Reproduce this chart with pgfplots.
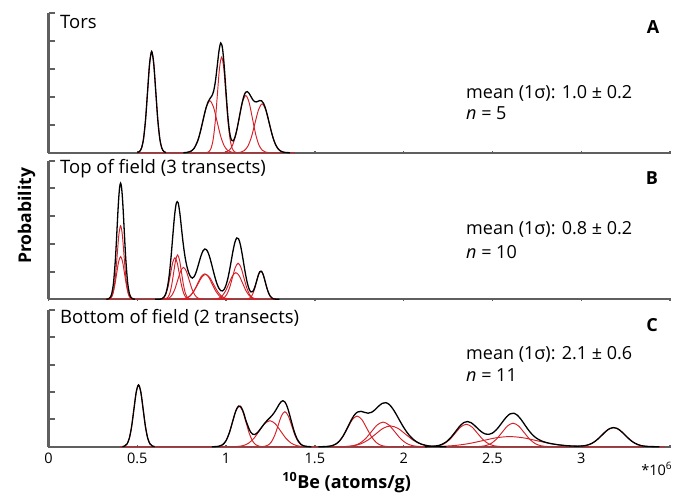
\documentclass[border=0pt]{standalone}
\usepackage{pgfplots}
\pgfplotsset{compat=1.18}
\usepackage{fontspec}
\setmainfont{Open Sans}
\definecolor{pdred}{RGB}{212,32,39}
\definecolor{axgray}{RGB}{95,95,95}
\pgfplotsset{
  panel/.style={
    scale only axis, width=621.5bp, xmin=0, xmax=3.5, ymin=0, ymax=5,
    axis lines=left, axis line style={-, draw=axgray, line width=2bp},
    clip=false,
    ytick=\empty,
    extra y ticks={0,1,2,3,4,5}, extra y tick labels={},
    y tick style={draw=axgray, line width=2bp},
    extra y tick style={major tick length=6.5bp, tick align=inside,
      tick style={draw=axgray, line width=2bp}},
    major tick length=3bp,
    xtick={0,0.5,...,3.5}, xtick align=center,
    x tick style={draw=axgray, line width=1.4bp},
    xticklabels={},
    anchor=south west},
  rc/.style={pdred, line width=0.95bp, smooth, no markers},
  bc/.style={black, line width=1.3bp, smooth, no markers}}
\newcommand{\fs}[1]{\fontsize{#1bp}{#1bp}\selectfont}
\begin{document}
\begin{tikzpicture}
\path[use as bounding box] (0,0) rectangle (691bp,494bp);
% ---------------- Panel A ----------------
\begin{axis}[panel, height=139.4bp, at={(48.5bp,341.3bp)}]
\addplot[rc] coordinates {(0.50,0) (1.39,0)};
\addplot[rc] coordinates {(.5005,.008)(.512,.040)(.5235,.159)(.535,.491)(.5465,1.179)(.558,2.202)(.5695,3.203)(.581,3.63)(.5925,3.203)(.604,2.202)(.6155,1.179)(.627,.491)(.6385,.159)(.650,.040)(.6615,.008)};
\addplot[rc] coordinates {(.769,.004)(.789,.021)(.809,.082)(.829,.252)(.849,.604)(.869,1.128)(.889,1.641)(.909,1.86)(.929,1.641)(.949,1.128)(.969,.604)(.989,.252)(1.009,.082)(1.029,.021)(1.049,.004)};
\addplot[rc] coordinates {(.891,.008)(.903,.038)(.915,.151)(.927,.464)(.939,1.114)(.951,2.080)(.963,3.027)(.975,3.43)(.987,3.027)(.999,2.080)(1.011,1.114)(1.023,.464)(1.035,.151)(1.047,.038)(1.059,.008)};
\addplot[rc] coordinates {(.9815,.005)(1.000,.023)(1.0185,.090)(1.037,.277)(1.0555,.666)(1.074,1.243)(1.0925,1.809)(1.111,2.05)(1.1295,1.809)(1.148,1.243)(1.1665,.666)(1.185,.277)(1.2035,.090)(1.222,.023)(1.2405,.005)};
\addplot[rc] coordinates {(1.063,.004)(1.083,.019)(1.103,.077)(1.123,.237)(1.143,.568)(1.163,1.061)(1.183,1.544)(1.203,1.75)(1.223,1.544)(1.243,1.061)(1.263,.568)(1.283,.237)(1.303,.077)(1.323,.019)(1.343,.004)};
\addplot[bc] coordinates {(.5005,.008)(.512,.040)(.5235,.159)(.535,.491)(.5465,1.179)(.558,2.202)(.5695,3.203)(.581,3.63)(.5925,3.203)(.604,2.202)(.6155,1.179)(.627,.491)(.6385,.159)(.650,.040)(.6615,.008)};
\addplot[bc] coordinates {(.76,0)(.78,.010)(.80,.045)(.82,.157)(.84,.420)(.85,.627)(.86,.878)(.87,1.157)(.88,1.431)(.89,1.668)(.90,1.839)(.91,1.948)(.92,2.039)(.93,2.211)(.94,2.563)(.95,3.094)(.96,3.646)(.97,3.937)(.98,3.741)(.99,3.070)(1.00,2.157)(1.01,1.311)(1.02,.731)(1.03,.454)(1.04,.422)(1.05,.558)(1.06,.803)(1.07,1.117)(1.08,1.458)(1.09,1.777)(1.10,2.025)(1.11,2.167)(1.12,2.193)(1.13,2.127)(1.14,2.014)(1.15,1.904)(1.16,1.835)(1.17,1.821)(1.18,1.844)(1.19,1.870)(1.20,1.859)(1.21,1.780)(1.22,1.626)(1.23,1.405)(1.24,1.146)(1.25,.880)(1.26,.634)(1.27,.430)(1.28,.274)(1.29,.164)(1.30,.093)(1.31,.049)(1.32,.024)(1.33,.011)(1.34,.005)(1.36,0)};
\end{axis}
% ---------------- Panel B ----------------
\begin{axis}[panel, height=138.6bp, at={(48.5bp,194.7bp)}]
\addplot[rc] coordinates {(0.32,0) (1.30,0)};
\addplot[rc] coordinates {(.3395,.006)(.349,.029)(.3585,.116)(.368,.359)(.3775,.860)(.387,1.607)(.3965,2.339)(.406,2.65)(.4155,2.339)(.425,1.607)(.4345,.860)(.444,.359)(.4535,.116)(.463,.029)(.4725,.006)};
\addplot[rc] coordinates {(.329,.003)(.340,.017)(.351,.068)(.362,.208)(.373,.500)(.384,.934)(.395,1.359)(.406,1.54)(.417,1.359)(.428,.934)(.439,.500)(.450,.208)(.461,.068)(.472,.017)(.483,.003)};
\addplot[rc] coordinates {(.6245,.003)(.637,.017)(.6495,.066)(.662,.203)(.6745,.487)(.687,.910)(.6995,1.324)(.712,1.50)(.7245,1.324)(.737,.910)(.7495,.487)(.762,.203)(.7745,.066)(.787,.017)(.7995,.003)};
\addplot[rc] coordinates {(.650,.004)(.661,.018)(.672,.070)(.683,.216)(.694,.520)(.705,.970)(.716,1.412)(.727,1.60)(.738,1.412)(.749,.970)(.760,.520)(.771,.216)(.782,.070)(.793,.018)(.804,.004)};
\addplot[rc] coordinates {(.648,.003)(.664,.013)(.680,.050)(.696,.156)(.712,.373)(.728,.697)(.744,1.015)(.760,1.15)(.776,1.015)(.792,.697)(.808,.373)(.824,.156)(.840,.050)(.856,.013)(.872,.003)};
\addplot[rc] coordinates {(.7365,.002)(.757,.010)(.7775,.040)(.798,.124)(.8185,.299)(.839,.558)(.8595,.812)(.880,.92)(.9005,.812)(.921,.558)(.9415,.299)(.962,.124)(.9825,.040)(1.003,.010)(1.0235,.002)};
\addplot[rc] coordinates {(.731,.002)(.753,.010)(.775,.040)(.797,.122)(.819,.292)(.841,.546)(.863,.794)(.885,.90)(.907,.794)(.929,.546)(.951,.292)(.973,.122)(.995,.040)(1.017,.010)(1.039,.002)};
\addplot[rc] coordinates {(.956,.003)(.972,.014)(.988,.057)(1.004,.176)(1.020,.422)(1.036,.788)(1.052,1.147)(1.068,1.30)(1.084,1.147)(1.100,.788)(1.116,.422)(1.132,.176)(1.148,.057)(1.164,.014)(1.180,.003)};
\addplot[rc] coordinates {(.922,.002)(.941,.011)(.960,.042)(.979,.130)(.998,.312)(1.017,.582)(1.036,.847)(1.055,.96)(1.074,.847)(1.093,.582)(1.112,.312)(1.131,.130)(1.150,.042)(1.169,.011)(1.188,.002)};
\addplot[rc] coordinates {(1.1085,.002)(1.121,.011)(1.1335,.045)(1.146,.138)(1.1585,.331)(1.171,.619)(1.1835,.900)(1.196,1.02)(1.2085,.900)(1.221,.619)(1.2335,.331)(1.246,.138)(1.2585,.045)(1.271,.011)(1.2835,.002)};
\addplot[bc] coordinates {(.326,.002)(.336,.013)(.346,.055)(.356,.199)(.366,.584)(.376,1.370)(.381,1.922)(.386,2.542)(.391,3.162)(.396,3.696)(.401,4.061)(.406,4.19)(.411,4.061)(.416,3.696)(.421,3.162)(.426,2.542)(.431,1.922)(.436,1.370)(.446,.584)(.456,.199)(.466,.055)(.476,.013)(.486,.002)};
\addplot[bc] coordinates {(.60,0)(.62,.002)(.63,.007)(.64,.026)(.65,.076)(.66,.198)(.67,.444)(.68,.874)(.69,1.512)(.70,2.289)(.71,3.021)(.72,3.473)(.73,3.484)(.74,3.091)(.75,2.495)(.76,1.936)(.77,1.489)(.78,1.170)(.79,.950)(.80,.813)(.81,.765)(.82,.816)(.83,.954)(.84,1.154)(.85,1.382)(.86,1.592)(.87,1.745)(.88,1.815)(.89,1.787)(.90,1.666)(.91,1.471)(.92,1.229)(.93,.974)(.94,.738)(.95,.538)(.96,.394)(.97,.313)(.98,.301)(.99,.366)(1.00,.516)(1.01,.750)(1.02,1.061)(1.03,1.419)(1.04,1.776)(1.05,2.062)(1.06,2.212)(1.07,2.185)(1.08,1.985)(1.09,1.654)(1.10,1.265)(1.11,.890)(1.12,.579)(1.13,.367)(1.14,.265)(1.15,.279)(1.16,.404)(1.17,.612)(1.18,.838)(1.19,.994)(1.20,1.008)(1.21,.872)(1.22,.643)(1.23,.405)(1.24,.217)(1.25,.099)(1.26,.038)(1.27,.013)(1.28,.004)(1.29,.001)(1.30,0)};
\end{axis}
% ---------------- Panel C ----------------
\begin{axis}[panel, height=136.7bp, at={(48.5bp,47.3bp)},
  xticklabels={0,0.5,1,1.5,2,2.5,3,},
  xticklabel style={font=\fs{14.5}, inner sep=0pt, anchor=north, yshift=-4.5bp}]
\addplot[rc] coordinates {(0.40,0) (3.47,0)};
\addplot[rc] coordinates {(.416,.005)(.429,.025)(.442,.099)(.455,.306)(.468,.734)(.481,1.371)(.494,1.994)(.507,2.26)(.520,1.994)(.533,1.371)(.546,.734)(.559,.306)(.572,.099)(.585,.025)(.598,.005)};
\addplot[rc] coordinates {(.941,.003)(.960,.016)(.979,.065)(.998,.200)(1.017,.481)(1.036,.898)(1.055,1.306)(1.074,1.48)(1.093,1.306)(1.112,.898)(1.131,.481)(1.150,.200)(1.169,.065)(1.188,.016)(1.207,.003)};
\addplot[rc] coordinates {(1.037,.002)(1.067,.011)(1.097,.042)(1.127,.129)(1.157,.308)(1.187,.576)(1.217,.838)(1.247,.95)(1.277,.838)(1.307,.576)(1.337,.308)(1.367,.129)(1.397,.042)(1.427,.011)(1.457,.002)};
\addplot[rc] coordinates {(1.198,.003)(1.217,.014)(1.236,.056)(1.255,.173)(1.274,.416)(1.293,.776)(1.312,1.130)(1.331,1.28)(1.350,1.130)(1.369,.776)(1.388,.416)(1.407,.173)(1.426,.056)(1.445,.014)(1.464,.003)};
\addplot[rc] coordinates {(1.549,.002)(1.576,.012)(1.603,.049)(1.630,.152)(1.657,.364)(1.684,.679)(1.711,.988)(1.738,1.12)(1.765,.988)(1.792,.679)(1.819,.364)(1.846,.152)(1.873,.049)(1.900,.012)(1.927,.002)};
\addplot[rc] coordinates {(1.653,.002)(1.686,.010)(1.719,.040)(1.752,.122)(1.785,.292)(1.818,.546)(1.851,.794)(1.884,.90)(1.917,.794)(1.950,.546)(1.983,.292)(2.016,.122)(2.049,.040)(2.082,.010)(2.115,.002)};
\addplot[rc] coordinates {(1.632,.002)(1.674,.008)(1.716,.033)(1.758,.103)(1.800,.247)(1.842,.461)(1.884,.671)(1.926,.76)(1.968,.671)(2.010,.461)(2.052,.247)(2.094,.103)(2.136,.033)(2.178,.008)(2.220,.002)};
\addplot[rc] coordinates {(2.136,.002)(2.167,.009)(2.198,.036)(2.229,.111)(2.260,.266)(2.291,.497)(2.322,.724)(2.353,.82)(2.384,.724)(2.415,.497)(2.446,.266)(2.477,.111)(2.508,.036)(2.539,.009)(2.570,.002)};
\addplot[rc] coordinates {(2.399,.002)(2.430,.010)(2.461,.038)(2.492,.116)(2.523,.279)(2.554,.522)(2.585,.759)(2.616,.86)(2.647,.759)(2.678,.522)(2.709,.279)(2.740,.116)(2.771,.038)(2.802,.010)(2.833,.002)};
\addplot[rc] coordinates {(2.072,.001)(2.147,.004)(2.222,.016)(2.297,.050)(2.372,.120)(2.447,.224)(2.522,.327)(2.597,.37)(2.672,.327)(2.747,.224)(2.822,.120)(2.897,.050)(2.972,.016)(3.047,.004)(3.122,.001)};
\addplot[rc] coordinates {(2.9545,.002)(2.987,.008)(3.0195,.031)(3.052,.095)(3.0845,.227)(3.117,.425)(3.1495,.618)(3.182,.70)(3.2145,.618)(3.247,.425)(3.2795,.227)(3.312,.095)(3.3445,.031)(3.377,.008)(3.4095,.002)};
\addplot[bc] coordinates {(.416,.005)(.429,.025)(.442,.099)(.455,.306)(.468,.734)(.481,1.371)(.494,1.994)(.507,2.26)(.520,1.994)(.533,1.371)(.546,.734)(.559,.306)(.572,.099)(.585,.025)(.598,.005)};
\addplot[bc] coordinates {(.92,0)(.94,.003)(.96,.016)(.98,.069)(1.00,.222)(1.02,.540)(1.04,.994)(1.05,1.216)(1.06,1.390)(1.07,1.484)(1.08,1.482)(1.09,1.385)(1.10,1.218)(1.11,.991)(1.12,.812)(1.13,.642)(1.14,.522)(1.15,.457)(1.16,.446)(1.17,.478)(1.18,.540)(1.19,.620)(1.20,.708)(1.21,.796)(1.22,.878)(1.23,.950)(1.24,1.016)(1.25,1.081)(1.26,1.152)(1.27,1.236)(1.28,1.337)(1.29,1.449)(1.30,1.561)(1.31,1.645)(1.32,1.681)(1.33,1.645)(1.34,1.531)(1.35,1.348)(1.36,1.118)(1.37,.872)(1.38,.639)(1.39,.438)(1.40,.283)(1.42,.097)(1.44,.026)(1.46,.006)(1.48,0)};
\addplot[bc] coordinates {(1.52,0)(1.54,.001)(1.56,.005)(1.58,.015)(1.60,.043)(1.62,.104)(1.64,.219)(1.66,.403)(1.68,.647)(1.70,.912)(1.72,1.138)(1.74,1.268)(1.76,1.293)(1.78,1.256)(1.80,1.226)(1.82,1.260)(1.84,1.359)(1.86,1.487)(1.88,1.587)(1.90,1.610)(1.92,1.538)(1.94,1.378)(1.96,1.164)(1.98,.930)(2.00,.708)(2.02,.514)(2.04,.358)(2.06,.239)(2.08,.153)(2.10,.093)(2.12,.055)(2.14,.030)(2.16,.016)(2.18,.008)(2.20,.004)(2.22,.002)(2.24,0)};
\addplot[bc] coordinates {(2.12,0)(2.14,.006)(2.16,.011)(2.18,.025)(2.20,.050)(2.22,.098)(2.24,.178)(2.26,.296)(2.28,.450)(2.30,.621)(2.32,.779)(2.34,.887)(2.36,.921)(2.38,.877)(2.40,.773)(2.42,.647)(2.44,.536)(2.46,.465)(2.48,.451)(2.50,.498)(2.52,.606)(2.54,.759)(2.56,.934)(2.58,1.095)(2.60,1.202)(2.62,1.224)(2.64,1.153)(2.66,1.007)(2.68,.823)(2.70,.635)(2.72,.475)(2.74,.351)(2.76,.263)(2.78,.202)(2.80,.158)(2.82,.126)(2.84,.101)(2.86,.080)(2.88,.062)(2.90,.048)(2.92,.036)(2.94,.028)(2.96,.022)(2.98,.020)(3.00,.024)(3.02,.038)(3.04,.069)(3.06,.123)(3.08,.206)(3.10,.317)(3.12,.444)(3.14,.568)(3.16,.661)(3.18,.700)(3.20,.674)(3.22,.590)(3.24,.470)(3.26,.341)(3.28,.225)(3.30,.135)(3.32,.074)(3.34,.036)(3.36,.017)(3.38,.007)(3.40,.003)(3.42,.001)(3.44,0)};
\end{axis}
% ---------------- Text ----------------
\node[anchor=base west, inner sep=0pt, font=\fs{18.5}] at (60bp,465.7bp) {Tors};
\node[anchor=base west, inner sep=0pt, font=\fs{18.5}] at (60bp,320.7bp) {Top of field (3 transects)};
\node[anchor=base west, inner sep=0pt, font=\fs{18.5}] at (60bp,170.7bp) {Bottom of field (2 transects)};
\node[anchor=base, inner sep=0pt, font=\fs{18}\bfseries] at (653bp,460.7bp) {A};
\node[anchor=base, inner sep=0pt, font=\fs{18}\bfseries] at (652bp,309.7bp) {B};
\node[anchor=base, inner sep=0pt, font=\fs{18}\bfseries] at (652bp,162.3bp) {C};
\node[anchor=base west, inner sep=0pt, font=\fs{18}] at (466bp,395.7bp) {mean (1σ): 1.0 ± 0.2};
\node[anchor=base west, inner sep=0pt, font=\fs{18}] at (466bp,374.7bp) {\textit{n} = 5};
\node[anchor=base west, inner sep=0pt, font=\fs{18}] at (466bp,259.7bp) {mean (1σ): 0.8 ± 0.2};
\node[anchor=base west, inner sep=0pt, font=\fs{18}] at (466bp,235.7bp) {\textit{n} = 10};
\node[anchor=base west, inner sep=0pt, font=\fs{18}] at (466bp,134.7bp) {mean (1σ): 2.1 ± 0.6};
\node[anchor=base west, inner sep=0pt, font=\fs{18}] at (466bp,112.3bp) {\textit{n} = 11};
\node[rotate=90, inner sep=0pt, font=\fs{17.5}\bfseries] at (26.7bp,278.2bp) {Probability};
\node[anchor=base, inner sep=0pt, font=\fs{18}\bfseries] at (346.7bp,6bp) {\textsuperscript{10}Be (atoms/g)};
\node[anchor=base, inner sep=0pt, font=\fs{14.5}] at (656.7bp,19bp) {*10\textsuperscript{6}};
\end{tikzpicture}
\end{document}
